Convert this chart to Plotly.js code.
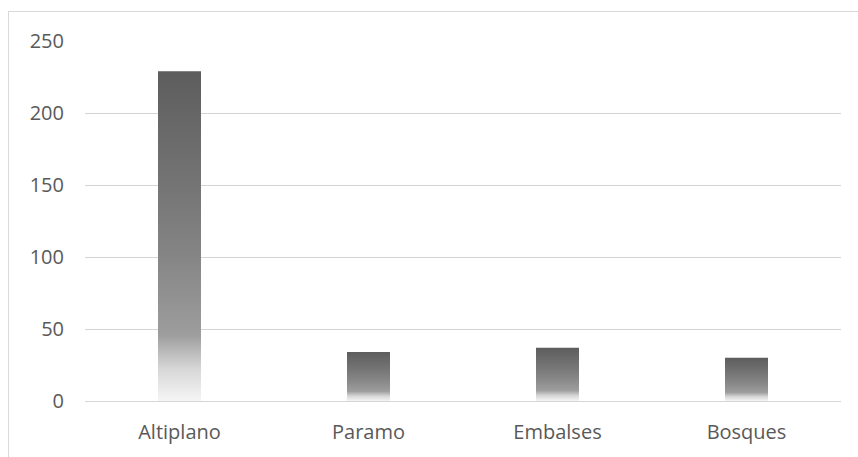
<!DOCTYPE html>
<html><head><meta charset="utf-8">
<script src="https://cdn.plot.ly/plotly-3.0.1.min.js"></script>
<style>
html,body{margin:0;padding:0;background:#fff;overflow:hidden}
#wrap{position:relative;width:858px;height:457px}
#chart{width:858px;height:457px}
#frame{position:absolute;left:8px;top:11px;width:900px;height:500px;border:1px solid #d9d9d9;pointer-events:none}
</style></head><body>
<div id="wrap"><div id="chart"></div><div id="frame"></div></div>
<script>
const categories = ['Altiplano', 'Paramo', 'Embalses', 'Bosques'];
const values = [229, 34, 37, 30];
const yTickVals = [0, 50, 100, 150, 200, 250];

const font = {family: 'Open Sans, sans-serif', size: 20, color: '#595959'};

const trace = {
  type: 'bar',
  x: categories,
  y: values,
  marker: {color: '#7f7f7f', line: {width: 0}},
  hoverinfo: 'skip'
};

const layout = {
  width: 858, height: 457,
  margin: {l: 85, r: 17, t: 41, b: 56},
  paper_bgcolor: '#ffffff', plot_bgcolor: '#ffffff',
  showlegend: false,
  bargap: 0.7725,
  font: font,
  xaxis: {
    type: 'category',
    showgrid: false, zeroline: false,
    showline: true, linecolor: '#d6d6d6', linewidth: 1,
    ticks: '', tickfont: font, ticklabelstandoff: 13,
    fixedrange: true
  },
  yaxis: {
    range: [0, 250], tickvals: yTickVals,
    showgrid: true, gridcolor: '#d4d4d4', gridwidth: 1,
    zeroline: false, showline: false,
    ticks: '', tickfont: font, ticklabelstandoff: 20,
    fixedrange: true
  }
};

Plotly.newPlot('chart', [trace], layout, {staticPlot: true, displayModeBar: false}).then(function (gd) {
  const svg = gd.querySelector('svg.main-svg');
  const NS = 'http://www.w3.org/2000/svg';
  let defs = svg.querySelector('defs');
  if (!defs) { defs = document.createElementNS(NS, 'defs'); svg.insertBefore(defs, svg.firstChild); }
  const grad = document.createElementNS(NS, 'linearGradient');
  grad.setAttribute('id', 'barGrad');
  grad.setAttribute('x1', '0'); grad.setAttribute('y1', '0');
  grad.setAttribute('x2', '0'); grad.setAttribute('y2', '1');
  [[0, '#5d5d5d'], [0.34, '#747474'], [0.56, '#858585'], [0.8, '#9d9d9d'], [0.9, '#d6d6d6'], [1, '#f5f5f5']].forEach(function (s) {
    const st = document.createElementNS(NS, 'stop');
    st.setAttribute('offset', s[0]);
    st.setAttribute('stop-color', s[1]);
    grad.appendChild(st);
  });
  defs.appendChild(grad);
  gd.querySelectorAll('.trace.bars .point path').forEach(function (p) {
    p.style.fill = 'url(#barGrad)';
  });
});
</script>
</body></html>
